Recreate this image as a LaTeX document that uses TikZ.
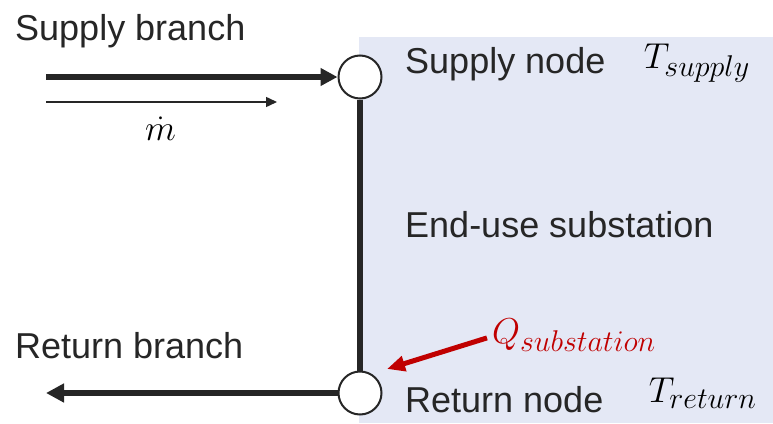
\RequirePackage{fix-cm}
\documentclass[tikz,border=0pt]{standalone}
\usepackage{fontspec}
\setmainfont{Liberation Sans}
\usepackage{xcolor}
\usetikzlibrary{positioning}
\usetikzlibrary{arrows.meta}
\DeclareMathSizes{36}{36}{30}{22}
\definecolor{textgray}{HTML}{262626}
\definecolor{stationfill}{HTML}{E4E8F5}
\definecolor{heatred}{HTML}{C00000}

\begin{document}
\begin{tikzpicture}[x=1pt, y=-1pt]
	% ------- style -------
	\tikzset{%
		label text/.style={%
			text=textgray, inner sep=0pt,
			font=\fontsize{36}{43}\selectfont,
		},
		math text/.style={%
			inner sep=0pt,
			font=\fontsize{36}{43}\selectfont,
		},
		junction/.style={%
			circle, draw=textgray, fill=white,
			line width=2pt, minimum size=43pt, inner sep=0pt,
		},
		pipe/.style={textgray, line width=6pt},
		node distance = 0pt,
	}
	\useasboundingbox (0,0) rectangle (773,423);
	
	% ------- substation -------
	\fill[stationfill] (359,37) rectangle (773,423);
	
	% ------- network -------
	\node[junction] (supply) at (360,77) {};
	\node[junction] (return) at (360,393) {};
	\coordinate (supply-in) at (46,77);
	\coordinate (return-out) at (46,393);
	
	\draw[pipe] (supply) -- (return);
	\draw[pipe, -{Triangle[length=17pt, width=17pt]}] (supply-in) -- (supply);
	\draw[pipe, -{Triangle[length=18pt, width=18pt]}] (return) -- (return-out);
	
	% ------- flow -------
	\coordinate (flow-start) at (46,102);
	\coordinate (flow-end) at (277,102);
	\draw[textgray, line width=1.5pt, -{Triangle[length=11pt, width=10pt]}] (flow-start) -- (flow-end);
	\node[math text, anchor=base west] (mdot) at (145,140) {$\dot{m}$};
	
	% ------- labels -------
	\node[label text, anchor=base west] (supply-branch) at (15,40) {Supply branch};
	\node[label text, anchor=base west] (return-branch) at (15,358) {Return branch};
	\node[label text, anchor=base west] (supply-label) at (405,73) {Supply node};
	\node[label text, anchor=base west] (station-label) at (405,237) {End-use substation};
	\node[label text, anchor=base west] (return-label) at (405,412) {Return node};
	\node[math text, base right=38pt of supply-label, yshift=5pt] (T-supply) {$T_{supply}$};
	\node[math text, base right=45pt of return-label, yshift=10pt] (T-return) {$T_{return}$};
	
	% ------- heat -------
	\node[math text, text=heatred, anchor=base west] (Q) at (492,343) {$Q_{substation}$};
	\coordinate (Q-tip) at (387,369);
	\draw[heatred, line width=5pt, -{Triangle[length=18pt, width=15pt]}] ([xshift=-5pt, yshift=-3pt]Q.west) -- (Q-tip);
\end{tikzpicture}
\end{document}
